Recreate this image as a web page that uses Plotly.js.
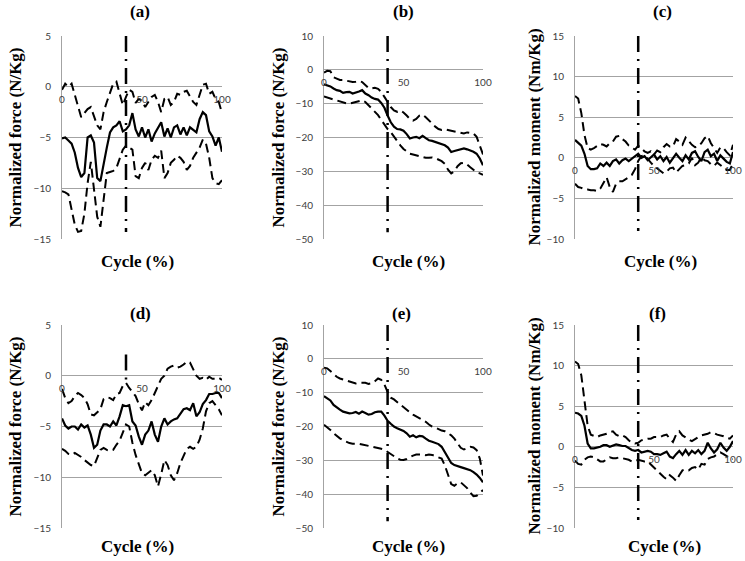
<!DOCTYPE html>
<html><head><meta charset="utf-8">
<script src="https://cdn.plot.ly/plotly-3.0.1.min.js"></script>
<style>html,body{margin:0;padding:0;background:#fff}#chart{width:745px;height:561px}</style>
</head><body><div id="chart"></div>
<script>
// ---- data ----
const cycle = [0,2,4,6,8,10,12,14,16,18,20,22,24,26,28,30,32,34,36,38,40,42,44,46,48,50,52,54,56,58,60,62,64,66,68,70,72,74,76,78,80,82,84,86,88,90,92,94,96,98,100];
const phaseX = [40, 40];

const aMean  = [-5.1,-5.0,-5.3,-5.6,-6.5,-8.0,-8.9,-8.5,-5.0,-4.8,-5.5,-9.0,-9.3,-7.5,-6.0,-4.5,-4.0,-3.8,-3.4,-4.4,-4.2,-3.8,-2.6,-4.2,-4.9,-4.0,-5.0,-4.2,-5.4,-4.6,-4.0,-3.5,-4.9,-4.1,-5.0,-4.0,-3.8,-4.7,-4.0,-4.8,-4.0,-4.3,-4.5,-3.2,-2.5,-2.8,-4.4,-4.9,-5.8,-5.0,-6.4];
const aUpper = [-0.3,0.3,0.0,0.3,-0.8,-1.8,-3.0,-2.6,-2.2,-2.0,-3.0,-3.8,-4.2,-2.5,-1.5,-0.5,0.3,0.5,-0.8,-1.8,-1.0,-0.3,-0.5,-1.6,-1.2,-1.4,-2.0,-1.5,-1.0,-0.8,-1.5,-2.5,-1.2,-1.0,-1.8,-1.5,-0.7,-0.8,-0.5,-0.4,-1.0,-1.5,-1.8,-0.9,0.2,0.3,-0.7,-0.5,-1.2,-1.5,-2.6];
const aLower = [-10.3,-10.4,-10.6,-12.0,-13.6,-14.3,-14.2,-12.5,-9.5,-7.4,-10.0,-12.8,-13.8,-11.0,-8.5,-8.4,-8.3,-8.0,-7.2,-6.2,-5.8,-6.0,-6.2,-8.8,-9.0,-8.0,-7.5,-8.2,-7.2,-6.8,-7.0,-6.3,-9.0,-8.5,-7.5,-7.2,-6.8,-7.0,-7.4,-8.2,-7.8,-7.0,-6.5,-6.0,-5.2,-5.6,-7.0,-9.0,-9.5,-9.6,-9.2];
const aPhaseY = [5, -14.3];

const bMean  = [-4.3,-4.6,-4.9,-5.5,-6.0,-6.2,-6.8,-6.6,-6.5,-7.0,-6.8,-6.4,-6.0,-7.0,-7.5,-8.2,-8.6,-8.8,-9.8,-11.2,-13.5,-15.5,-16.8,-17.5,-17.6,-18.0,-19.0,-20.3,-20.0,-19.8,-20.2,-19.5,-20.2,-20.8,-21.0,-21.3,-21.5,-21.8,-22.3,-23.0,-24.3,-24.0,-23.8,-23.4,-23.2,-23.5,-23.8,-24.2,-24.8,-26.2,-28.2];
const bUpper = [-0.8,-0.3,-0.4,-2.2,-2.6,-3.0,-3.0,-3.2,-3.4,-3.6,-3.5,-3.3,-3.6,-4.5,-5.4,-5.5,-5.3,-5.6,-6.5,-8.0,-9.5,-11.0,-12.0,-12.4,-12.0,-12.6,-13.5,-14.5,-15.0,-14.5,-13.5,-13.2,-14.0,-15.0,-16.0,-16.8,-17.5,-17.8,-17.6,-17.8,-18.0,-18.0,-18.2,-18.6,-18.8,-18.5,-18.6,-18.8,-19.8,-22.5,-25.0];
const bLower = [-7.9,-8.2,-8.6,-8.9,-9.2,-9.4,-9.7,-9.9,-10.0,-9.8,-9.6,-9.3,-9.0,-9.5,-10.4,-11.3,-12.3,-13.4,-14.8,-16.2,-17.5,-18.4,-19.8,-21.2,-22.3,-23.4,-24.2,-24.8,-25.0,-25.3,-25.5,-25.8,-26.0,-26.0,-25.9,-26.1,-26.5,-27.0,-27.8,-29.5,-30.6,-30.0,-28.5,-27.6,-27.5,-28.0,-28.8,-29.6,-30.3,-30.6,-31.0];
const bPhaseY = [10, -48];

const cMean  = [2.2,1.9,1.5,0.5,-1.0,-1.4,-1.4,-1.3,-0.7,-1.0,-0.6,-1.0,-0.4,-0.2,-0.7,-0.3,-0.1,-0.4,-0.1,0.3,0.5,0.0,0.2,-0.3,0.0,0.4,-0.2,0.2,-0.4,0.1,-0.6,0.0,0.5,0.0,-0.4,0.3,-0.2,0.6,0.8,0.1,-0.4,0.7,1.0,0.2,0.5,-0.4,0.3,-0.1,-0.5,-0.7,0.7];
const cUpper = [7.6,7.3,5.5,2.8,1.2,1.0,1.2,1.5,1.7,1.6,1.4,1.8,2.0,2.6,2.7,2.3,2.0,1.5,1.2,1.0,1.5,1.1,0.8,0.6,0.8,0.4,0.9,0.7,1.3,1.7,1.4,1.4,2.3,2.0,1.6,2.5,2.0,1.6,1.3,1.4,1.8,2.4,2.7,1.8,1.2,0.6,1.3,1.2,0.7,0.3,1.6];
const cLower = [-3.2,-3.6,-3.7,-3.9,-3.9,-4.0,-4.0,-4.1,-3.8,-3.0,-2.4,-3.6,-4.2,-3.2,-2.9,-2.9,-2.7,-2.4,-2.1,-1.4,-0.4,0.2,0.3,-0.2,-0.6,-1.0,-1.3,-1.6,-1.9,-1.7,-1.3,-1.2,-1.8,-1.4,-1.0,-0.9,-0.7,0.0,-0.9,-0.6,0.1,-0.3,-0.4,-0.8,-1.0,-0.6,-0.9,-1.3,-1.5,-1.5,-0.7];
const cPhaseY = [15, -9];

const dMean  = [-4.2,-4.9,-5.2,-5.0,-5.0,-5.3,-4.8,-5.1,-4.9,-5.8,-7.1,-6.8,-5.4,-4.8,-4.8,-5.0,-4.5,-4.9,-4.0,-2.9,-3.0,-2.9,-4.5,-4.9,-6.0,-6.8,-5.8,-5.4,-4.5,-5.8,-6.5,-5.0,-4.2,-4.8,-4.5,-4.3,-4.2,-3.8,-3.3,-3.2,-3.4,-2.7,-4.0,-3.6,-2.8,-2.4,-1.8,-1.8,-1.7,-1.7,-2.2];
const dUpper = [-1.3,-2.2,-2.7,-2.5,-2.0,-1.7,-1.9,-2.2,-2.8,-3.8,-3.9,-3.6,-3.3,-2.3,-2.1,-2.2,-2.4,-1.8,-1.7,-1.0,-0.7,-1.2,-1.6,-2.0,-2.8,-3.4,-2.6,-2.9,-2.4,-1.7,-0.9,-0.3,0.0,0.7,0.9,1.0,0.8,0.9,1.1,1.4,1.3,0.6,0.0,-0.3,-0.2,-0.4,-0.1,-0.3,-0.3,-0.2,-0.4];
const dLower = [-7.2,-7.4,-7.7,-7.8,-7.6,-7.8,-8.0,-8.3,-8.6,-8.8,-8.9,-8.0,-7.3,-7.1,-7.3,-7.4,-7.3,-6.8,-6.4,-5.6,-4.8,-5.0,-6.6,-7.8,-8.8,-9.6,-9.8,-9.5,-9.3,-9.8,-10.9,-9.7,-8.3,-8.8,-9.8,-10.3,-9.6,-8.6,-7.8,-7.2,-7.0,-7.2,-7.0,-6.3,-5.2,-3.5,-2.7,-2.5,-2.9,-3.3,-3.9];
const dPhaseY = [2.1, -0.5];

const eMean  = [-11.0,-11.6,-12.3,-13.6,-14.4,-15.0,-15.6,-15.9,-16.1,-16.0,-15.7,-16.2,-15.6,-16.0,-16.5,-16.3,-15.8,-15.6,-15.6,-16.8,-18.3,-19.2,-20.0,-20.5,-20.8,-21.3,-22.0,-23.0,-22.6,-23.2,-22.8,-22.9,-23.6,-24.2,-24.5,-24.8,-25.2,-26.0,-27.5,-29.2,-30.8,-31.4,-31.6,-32.0,-32.3,-32.6,-32.9,-33.5,-34.2,-35.2,-36.5];
const eUpper = [-2.6,-2.8,-3.6,-4.6,-5.3,-5.8,-6.1,-6.4,-6.7,-7.0,-7.3,-7.1,-7.0,-7.1,-7.4,-7.2,-6.6,-5.8,-6.2,-7.6,-9.8,-11.5,-12.0,-12.8,-13.6,-14.4,-15.0,-15.8,-16.5,-17.0,-17.4,-18.0,-18.6,-19.4,-20.0,-20.3,-20.8,-21.2,-21.4,-22.0,-22.6,-23.6,-24.8,-26.3,-26.8,-26.5,-26.0,-26.2,-27.0,-29.5,-34.5];
const eLower = [-19.5,-20.2,-21.0,-22.0,-22.8,-23.5,-24.1,-24.6,-24.9,-25.1,-25.0,-25.1,-25.3,-25.5,-25.6,-25.9,-26.1,-26.4,-26.6,-26.9,-27.5,-28.2,-28.9,-29.4,-29.8,-29.9,-29.6,-29.0,-28.6,-28.3,-28.2,-28.3,-28.5,-28.3,-28.4,-28.7,-29.0,-29.5,-31.5,-34.5,-37.0,-37.5,-36.8,-36.5,-37.4,-38.2,-39.5,-40.6,-40.5,-39.5,-38.8];
const ePhaseY = [10, -48];

const fMean  = [4.2,4.1,3.8,2.6,0.4,-0.2,-0.2,-0.1,0.0,0.2,0.2,0.0,0.2,0.3,0.2,0.1,0.1,-0.2,-0.4,-0.5,-0.4,-0.7,-0.6,-0.5,-0.6,-0.9,-0.9,-1.0,-0.8,-0.6,-1.2,-1.4,-0.9,-0.5,-1.0,-0.4,-1.0,-0.5,-0.8,-0.4,-0.9,-0.5,0.5,-0.2,-0.7,-0.3,0.5,-0.1,-0.5,0.0,0.7];
const fUpper = [10.5,10.2,8.8,5.5,2.6,1.5,1.3,1.2,1.4,1.5,1.6,1.8,1.9,1.5,1.3,1.4,1.2,0.8,0.5,0.4,0.5,0.8,0.9,1.0,1.0,1.2,1.2,1.2,1.4,1.5,1.0,0.6,1.5,1.9,1.4,1.1,0.9,0.7,1.0,1.2,1.4,1.5,1.6,1.8,1.7,1.5,1.4,1.3,1.1,1.0,1.4];
const fLower = [-1.7,-2.1,-2.2,-1.6,-1.3,-1.2,-1.3,-1.6,-1.8,-1.8,-1.5,-1.3,-1.4,-1.4,-1.3,-1.4,-1.5,-1.6,-1.8,-1.8,-1.6,-1.7,-1.8,-1.8,-2.2,-2.5,-3.0,-3.4,-3.7,-4.0,-3.5,-3.8,-4.2,-3.5,-2.9,-2.8,-2.9,-2.6,-2.5,-2.8,-2.1,-2.2,-1.5,-1.3,-1.2,-0.9,-0.7,-0.9,-1.2,-1.4,-1.5];
const fPhaseY = [15, -9];

const panelLabels = ['(a)','(b)','(c)','(d)','(e)','(f)'];
const yTitles = ['Normalized force (N/Kg)','Normalized force (N/Kg)','Normalized moment (Nm/Kg)',
                 'Normalized force (N/Kg)','Normalized force (N/Kg)','Normalized moment (Nm/Kg)'];
const xTitle = 'Cycle (%)';
const yRanges = [[-15,5],[-50,10],[-10,15],[-15,5],[-50,10],[-10,15]];
const yDticks = [5,10,5,5,10,5];
const xTickVals = [0,50,100];
const xTickText = ['0','50','100'];

// ---- layout geometry (pixels) ----
const W = 745, H = 561;
const cols = [[62,222],[324,483],[575,733]];
const rows = [[36,239],[325,528]];
const titleX = [[140,403,662],[140,402,657]];
const titleY = [12,313];
const xTitleX = [[137,408,660],[137,408,664]];
const xTitleY = [261,546];
const yTitleX = [15,278,534];

const panels = [
  {m:aMean,u:aUpper,l:aLower,p:aPhaseY},
  {m:bMean,u:bUpper,l:bLower,p:bPhaseY},
  {m:cMean,u:cUpper,l:cLower,p:cPhaseY},
  {m:dMean,u:dUpper,l:dLower,p:dPhaseY},
  {m:eMean,u:eUpper,l:eLower,p:ePhaseY},
  {m:fMean,u:fUpper,l:fLower,p:fPhaseY}
];

const gridColor = '#a3a3a3';
const tickFont = {family:'Lato', size:10, color:'#404040'};
const serifBold = {family:'Liberation Serif', size:17, color:'#000', weight:'bold'};

const traces = [];
const layout = {
  width:W, height:H, margin:{l:0,r:0,t:0,b:0},
  paper_bgcolor:'#fff', plot_bgcolor:'rgba(0,0,0,0)',
  font:{family:'Lato'},
  showlegend:false, annotations:[]
};

panels.forEach((pn,i)=>{
  const r = Math.floor(i/3), c = i%3;
  const n = i===0 ? '' : String(i+1);
  const xa = 'x'+n, ya = 'y'+n;
  const yr = yRanges[i];
  const yd0 = 1 - rows[r][1]/H, yd1 = 1 - rows[r][0]/H;
  const zeroPos = yd0 + (0 - yr[0])/(yr[1]-yr[0])*(yd1-yd0);

  layout['xaxis'+n] = {
    domain:[cols[c][0]/W, cols[c][1]/W], range:[0,100],
    anchor:'free', position:zeroPos,
    tickvals:xTickVals, ticktext:xTickText, tickfont:tickFont,
    ticks:'outside', ticklen:3, tickcolor:'rgba(0,0,0,0)',
    showgrid:false, zeroline:false, showline:false, fixedrange:true
  };
  layout['yaxis'+n] = {
    domain:[yd0, yd1], range:yr, dtick:yDticks[i], tick0:0,
    anchor:xa, tickfont:tickFont,
    ticks:'outside', ticklen:8, tickcolor:'rgba(0,0,0,0)',
    showgrid:true, gridcolor:gridColor, gridwidth:1,
    zeroline:false, showline:true, linecolor:gridColor, linewidth:1
  };

  traces.push({x:cycle, y:pn.u, xaxis:xa, yaxis:ya, mode:'lines',
    line:{color:'#000', width:2, dash:'9px,5px'}, hoverinfo:'skip'});
  traces.push({x:cycle, y:pn.l, xaxis:xa, yaxis:ya, mode:'lines',
    line:{color:'#000', width:2, dash:'9px,5px'}, hoverinfo:'skip'});
  traces.push({x:cycle, y:pn.m, xaxis:xa, yaxis:ya, mode:'lines',
    line:{color:'#000', width:2.2}, hoverinfo:'skip'});
  traces.push({x:phaseX, y:pn.p, xaxis:xa, yaxis:ya, mode:'lines',
    line:{color:'#000', width:2.5, dash:'16px,7px,2px,7px'}, hoverinfo:'skip'});

  layout.annotations.push({text:panelLabels[i], xref:'paper', yref:'paper',
    x:titleX[r][c]/W, y:1-titleY[r]/H, xanchor:'center', yanchor:'middle',
    showarrow:false, font:serifBold});
  layout.annotations.push({text:xTitle, xref:'paper', yref:'paper',
    x:xTitleX[r][c]/W, y:1-xTitleY[r]/H, xanchor:'center', yanchor:'middle',
    showarrow:false, font:serifBold});
  layout.annotations.push({text:yTitles[i], xref:'paper', yref:'paper',
    x:yTitleX[c]/W, y:1-(rows[r][0]+rows[r][1])/2/H, xanchor:'center', yanchor:'middle',
    textangle:-90, showarrow:false, font:serifBold});
});

Plotly.newPlot('chart', traces, layout, {staticPlot:true, displayModeBar:false});
</script>
</body></html>
